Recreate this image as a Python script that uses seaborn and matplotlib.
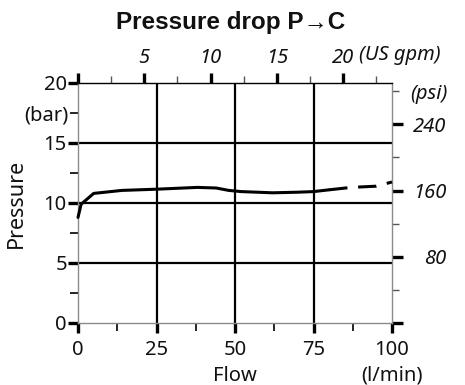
import matplotlib
matplotlib.use("Agg")
import matplotlib.pyplot as plt
from matplotlib.ticker import FixedLocator, FixedFormatter
import seaborn as sns
import pandas as pd

# Measured pressure drop P->C, bar versus flow in l/min
flow_solid = [0, 1, 5, 14, 25, 38, 44, 48, 52, 62, 70, 75, 80]
bar_solid = [8.8, 9.9, 10.8, 11.05, 11.15, 11.3, 11.25, 11.05, 10.95, 10.85, 10.9, 10.95, 11.1]
# Extrapolated range
flow_dash = [80, 87, 95, 100]
bar_dash = [11.1, 11.3, 11.4, 11.75]

flow_ticks = [0, 25, 50, 75, 100]
flow_minor = [12.5, 37.5, 62.5, 87.5]
bar_ticks = [0, 5, 10, 15, 20]
bar_minor = [2.5, 7.5, 12.5, 17.5]
gpm_ticks = [0, 5, 10, 15, 20]
gpm_labels = ["", "5", "10", "15", "20"]
gpm_minor = [2.5, 7.5, 12.5, 17.5, 22.5]
psi_ticks = [0, 80, 160, 240]
psi_labels = ["", "80", "160", "240"]
psi_minor = [40, 120, 200, 280]
grid_flow = [25, 50, 75]
grid_bar = [5, 10, 15]

LPM_PER_GPM = 4.22
PSI_PER_BAR = 14.5
FS = 14.5
INK = "#111111"

sns.set_style("ticks")
plt.rcParams["font.family"] = ["Noto Sans", "DejaVu Sans"]
plt.rcParams["font.weight"] = "light"

fig = plt.figure(figsize=(4.65, 3.85), dpi=100)
ax = fig.add_axes([78 / 465, 1 - 323 / 385, 314 / 465, 240 / 385])

for x in grid_flow:
    ax.axvline(x, color="black", lw=1.6, zorder=1)
for y in grid_bar:
    ax.axhline(y, color="black", lw=1.6, zorder=1)

solid = pd.DataFrame({"flow": flow_solid, "bar": bar_solid})
dash = pd.DataFrame({"flow": flow_dash, "bar": bar_dash})
sns.lineplot(data=solid, x="flow", y="bar", ax=ax, color="black", lw=2.2,
             zorder=3, clip_on=False)
sns.lineplot(data=dash, x="flow", y="bar", ax=ax, color="black", lw=2.2,
             zorder=3, dashes=False, linestyle=(0, (6, 3.5)), clip_on=False)

ax.set_xlim(0, 100)
ax.set_ylim(0, 20)

for side in ["left", "bottom", "right"]:
    ax.spines[side].set_color("#8a8a8a")
    ax.spines[side].set_linewidth(1.0)
ax.spines["top"].set_color("black")
ax.spines["top"].set_linewidth(1.0)

ax.set_xticks(flow_ticks)
ax.xaxis.set_minor_locator(FixedLocator(flow_minor))
ax.set_yticks(bar_ticks)
ax.yaxis.set_minor_locator(FixedLocator(bar_minor))
ax.yaxis.set_minor_formatter(FixedFormatter(["", "", "", "(bar)"]))

ax.tick_params(axis="both", which="major", direction="out", length=7, width=2.4,
               color="black", labelsize=FS, labelcolor=INK)
ax.tick_params(axis="both", which="minor", direction="out", length=6, width=1.2,
               color="black", labelsize=FS, labelcolor=INK)
ax.tick_params(axis="x", which="major", pad=5)
ax.tick_params(axis="y", which="both", pad=1)

ax.set_xlabel("")
ax.set_ylabel("Pressure", fontsize=15.5, color=INK)
ax.yaxis.set_label_coords(-(78 - 27) / 314, 0.5)
fig.text(235 / 465, 1 - 376 / 385, "Flow", ha="center", va="center",
         fontsize=FS, color=INK)
fig.text(392 / 465, 1 - 376 / 385, "(l/min)", ha="center", va="center",
         fontsize=FS, color=INK)

# US gpm scale on top
top = ax.secondary_xaxis("top", functions=(lambda q: q / LPM_PER_GPM,
                                            lambda g: g * LPM_PER_GPM))
top.set_xticks(gpm_ticks)
top.set_xticklabels(gpm_labels)
top.xaxis.set_minor_locator(FixedLocator(gpm_minor))
top.tick_params(which="major", direction="out", length=7, width=2.4,
                color="black", labelsize=FS, labelcolor=INK, pad=4)
top.tick_params(which="minor", direction="out", length=5, width=1.0,
                color="#555555")
for lbl in top.get_xticklabels():
    lbl.set_fontstyle("italic")
top.spines["top"].set_visible(False)
fig.text(400 / 465, 1 - 55 / 385, "(US gpm)", ha="center", va="center",
         fontsize=FS, fontstyle="italic", color=INK)

# psi scale on the right
right = ax.secondary_yaxis("right", functions=(lambda b: b * PSI_PER_BAR,
                                                lambda p: p / PSI_PER_BAR))
right.set_yticks(psi_ticks)
right.set_yticklabels(psi_labels)
right.yaxis.set_minor_locator(FixedLocator(psi_minor))
right.yaxis.set_minor_formatter(FixedFormatter(["", "", "", "(psi)"]))
right.tick_params(which="major", direction="out", length=8, width=2.4,
                  color="black", labelsize=FS, labelcolor=INK, pad=31)
right.tick_params(which="minor", direction="out", length=5, width=1.0,
                  color="#555555", labelsize=FS, labelcolor=INK, pad=8)
for lbl in right.get_yticklabels():
    lbl.set_fontstyle("italic")
    lbl.set_horizontalalignment("right")
for lbl in right.get_yticklabels(minor=True):
    lbl.set_fontstyle("italic")
right.spines["right"].set_visible(False)

fig.text(231 / 465, 1 - 22 / 385, "Pressure drop P\u2192C", ha="center",
         va="center", fontsize=17.5, fontweight="bold", color=INK,
         family=["Liberation Sans", "DejaVu Sans"])

fig.savefig("out.png", dpi=100)
